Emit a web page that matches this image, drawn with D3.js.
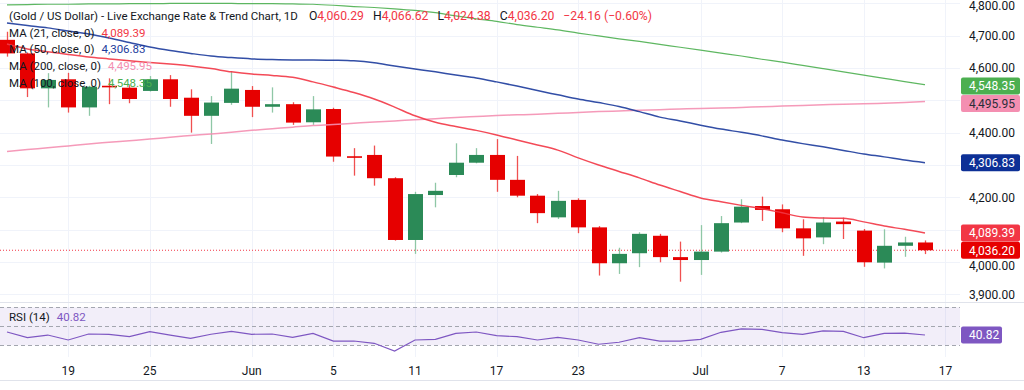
<!DOCTYPE html>
<html><head><meta charset="utf-8">
<script src="https://cdn.jsdelivr.net/npm/d3@7/dist/d3.min.js"></script>
<style>
html,body{margin:0;padding:0;background:#fff;}
svg{display:block;font-family:Roboto,"Liberation Sans",Arial,sans-serif;}
</style></head><body>
<svg id="c" width="1024" height="390"></svg>
<script>
// ---- data ----
const dates = ["2026-05-14","2026-05-15","2026-05-18","2026-05-19","2026-05-20","2026-05-21","2026-05-22",
"2026-05-25","2026-05-26","2026-05-27","2026-05-28","2026-05-29",
"2026-06-01","2026-06-02","2026-06-03","2026-06-04","2026-06-05","2026-06-08","2026-06-09","2026-06-10","2026-06-11","2026-06-12",
"2026-06-15","2026-06-16","2026-06-17","2026-06-18","2026-06-19","2026-06-22","2026-06-23","2026-06-24","2026-06-25","2026-06-26",
"2026-06-29","2026-06-30","2026-07-01","2026-07-02","2026-07-03","2026-07-06","2026-07-07","2026-07-08","2026-07-09","2026-07-10",
"2026-07-13","2026-07-14","2026-07-15","2026-07-16","2026-07-17"];
const opens  = [4687,4645,4537,4565,4478,4545,4539,4529,4565,4508,4452,4492,4532,4480,4488,4432,4473,4327,4331,4259,4068,4207,4269,4307,4331,4254,4205,4138,4192,4107,3996,4027,4081,4015,4006,4032,4122,4173,4163,4104,4076,4125,4097,3998,4050,4060.29];
const highs  = [4712,4648,4584,4585,4545,4568,4547,4575,4578,4534,4513,4590,4544,4540,4494,4513,4477,4352,4360,4262,4217,4245,4367,4352,4380,4328,4210,4220,4197,4111,4044,4092,4087,4063,4114,4142,4194,4202,4178,4132,4138,4137,4102,4101,4078,4066.62];
const lows   = [4635,4510,4478,4462,4452,4488,4491,4527,4480,4400,4365,4486,4448,4462,4424,4424,4310,4267,4236,4066,4025,4169,4262,4305,4217,4200,4120,4133,4089,3958,3963,3984,3999,3939,3960,4029,4120,4127,4092,4019,4055,4071,3985,3980,4016,4024.38];
const closes = [4645,4537,4563,4478,4542,4542,4504,4565,4504,4452,4493,4536,4480,4488,4431,4472,4326,4325,4259,4068,4210,4220,4307,4331,4254,4205,4151,4189,4107,3996,4025,4087,4015,4006,4032,4120,4171,4161,4104,4073,4122,4117,3999,4050,4060.36,4036.20];
const ma21  = [4674,4659,4650,4642,4634,4628,4622,4617,4612,4606,4598,4588,4581,4577,4571,4557,4541,4524,4504,4479,4452,4432,4419,4407,4393,4377,4362,4346,4322,4300,4280,4260,4238,4218,4198,4186,4175,4165,4152,4139,4136,4135,4124,4111,4101,4089.39];
const ma50  = [4739,4731,4724,4714,4705,4693,4679,4665,4654,4645,4637,4632,4628,4626,4625,4625,4624,4622,4616,4606,4597,4588,4578,4569,4557,4544,4530,4517,4504,4493,4481,4465,4448,4436,4423,4411,4401,4390,4377,4366,4356,4345,4334,4325,4315,4306.83];
const ma100 = [4795,4796,4797,4797,4798,4798,4799,4799,4799.5,4800,4800,4799.5,4799,4799,4798,4797,4794,4790,4787,4783,4778,4771,4761,4752,4744,4734,4726,4718,4708,4699,4690,4682,4673,4664,4655,4646,4637,4627,4618,4608,4598,4588,4578,4568,4558,4548.35];
const ma200 = [4342,4348,4353,4359,4365,4370,4375,4380,4386,4391,4396,4401,4407,4412,4417,4422,4425,4429,4433,4436,4440,4443,4447,4450,4453,4455,4457,4460,4462,4465,4467,4469,4471,4473,4475,4476,4478,4480,4482,4484,4486,4488,4489,4491,4493,4495.95];
const rsi   = [44.0,38.0,40.8,35.6,41.9,41.6,39.1,44.3,40.8,37.4,41.6,44.7,41.6,41.9,38.4,42.6,34.5,34.5,32.1,24.0,35.6,36.3,42.6,44.0,40.1,39.1,35.6,38.4,35.6,31.1,33.2,38.0,34.5,34.5,36.3,43.7,47.2,46.8,43.3,41.6,45.1,44.7,38.0,42.6,42.9,40.82];
const priceTicks = [3900,4000,4100,4200,4300,4400,4500,4600,4700,4800];
const xTickDates  = ["2026-05-19","2026-05-25","2026-06-01","2026-06-05","2026-06-11","2026-06-17","2026-06-23","2026-07-01","2026-07-07","2026-07-13","2026-07-17"];
const xTickLabels = ["19","25","Jun","5","11","17","23","Jul","7","13","17"];
const maNames = ["MA (21, close, 0)","MA (50, close, 0)","MA (200, close, 0)","MA (100, close, 0)"];

// ---- scales ----
const svg = d3.select("#c");
const W = 1024, plotR = 960, mainB = 302;
const x = d3.scaleLinear().domain([0, 46]).range([7, 945.4]);
const y = d3.scaleLinear().domain([3900, 4800]).range([294.3, 3.3]);
const yr = d3.scaleLinear().domain([30, 70]).range([345.3, 307.3]);
const fmt = d3.format(",.2f");

const UP = "#2b8a57", DN = "#e60000";
const C21 = "#f23645", C50 = "#1c3b9c", C100 = "#4caf50", C200 = "#f48fb1", CRSI = "#7e57c2";

svg.append("rect").attr("width", W).attr("height", 390).attr("fill", "#fff");

// grid
const grid = svg.append("g");
grid.selectAll("line.h").data(priceTicks).join("line")
  .attr("x1", 0).attr("x2", plotR).attr("y1", d => Math.round(y(d)) + 0.5).attr("y2", d => Math.round(y(d)) + 0.5)
  .attr("stroke", "#f0f3fa").attr("stroke-width", 1);
const tickIdx = xTickDates.map(d => dates.indexOf(d));
grid.selectAll("line.v").data(tickIdx).join("line")
  .attr("x1", d => Math.round(x(d)) + 0.5).attr("x2", d => Math.round(x(d)) + 0.5)
  .attr("y1", 0).attr("y2", 357)
  .attr("stroke", "#f0f3fa").attr("stroke-width", 1);

// separators
svg.append("line").attr("x1", 0).attr("x2", W).attr("y1", mainB + 0.5).attr("y2", mainB + 0.5).attr("stroke", "#e0e3eb");
svg.append("line").attr("x1", 0).attr("x2", W).attr("y1", 380.5).attr("y2", 380.5).attr("stroke", "#e0e3eb");

// RSI panel
svg.append("rect").attr("x", 0).attr("width", plotR).attr("y", yr(70)).attr("height", yr(30) - yr(70))
  .attr("fill", CRSI).attr("fill-opacity", 0.1);
svg.selectAll("line.rl").data([70, 50, 30]).join("line")
  .attr("x1", 0).attr("x2", plotR).attr("y1", d => Math.round(yr(d)) + 0.5).attr("y2", d => Math.round(yr(d)) + 0.5)
  .attr("stroke", "#a3a6af").attr("stroke-dasharray", "4,3").attr("stroke-width", 1);
svg.append("path").datum(rsi)
  .attr("d", d3.line().x((d, i) => x(i)).y(d => yr(d)))
  .attr("fill", "none").attr("stroke", CRSI).attr("stroke-width", 1.2);

// main clip
svg.append("clipPath").attr("id", "clip").append("rect").attr("x", 0).attr("y", 0).attr("width", plotR).attr("height", mainB);
const main = svg.append("g").attr("clip-path", "url(#clip)");

// last price dotted line
main.append("line").attr("x1", 0).attr("x2", plotR)
  .attr("y1", y(closes[45])).attr("y2", y(closes[45]))
  .attr("stroke", "#f23645").attr("stroke-dasharray", "1,2").attr("stroke-width", 1);

// candles
const candles = main.append("g");
const idx = d3.range(opens.length);
candles.selectAll("line.w").data(idx).join("line")
  .attr("x1", i => Math.round(x(i)) + 0.5).attr("x2", i => Math.round(x(i)) + 0.5)
  .attr("y1", i => y(highs[i])).attr("y2", i => y(lows[i]))
  .attr("stroke", i => closes[i] >= opens[i] ? "#8fc7a6" : "#f05050")
  .attr("stroke-width", 1.3);
candles.selectAll("rect.b").data(idx).join("rect")
  .attr("x", i => Math.round(x(i)) - 7)
  .attr("width", 15)
  .attr("y", i => y(Math.max(opens[i], closes[i])))
  .attr("height", i => Math.max(1.6, Math.abs(y(opens[i]) - y(closes[i]))))
  .attr("fill", i => closes[i] >= opens[i] ? UP : DN);

// moving averages
const maLine = d3.line().x((d, i) => x(i)).y(d => y(d)).curve(d3.curveMonotoneX);
[[ma100, C100, 1.2], [ma200, C200, 1.5], [ma50, C50, 1.5], [ma21, C21, 1.5]].forEach(([arr, col, w]) => {
  main.append("path").datum(arr).attr("d", maLine).attr("fill", "none")
    .attr("stroke", col).attr("stroke-width", w).attr("stroke-opacity", 0.9);
});

// price label boxes
const labels = [
  {v: ma100[45], bg: C100, fg: "#fff", off: 1.3},
  {v: ma200[45], bg: C200, fg: "#2a2e39", off: 2},
  {v: ma50[45], bg: "#0d3096", fg: "#fff", off: 0},
  {v: ma21[45], bg: "#f23645", fg: "#fff", off: 0},
  {v: closes[45], bg: "#e60000", fg: "#fff", off: 0}
];
labels.forEach(l => l.cy = y(l.v) + l.off);

// right axis labels (those fully hidden by a value box are not drawn; partly hidden ones are nudged clear)
const visibleTicks = priceTicks.filter(t => labels.every(l => Math.abs(y(t) - l.cy) > 11));
const tickY = t => {
  let yy = Math.max(y(t), 6);
  labels.forEach(l => {
    const dd = yy - l.cy;
    if (dd > 0 && dd < 15.5) yy = l.cy + 15.5;
  });
  return yy;
};
const axisG = svg.append("g").attr("font-size", 12).attr("fill", "#131722");
axisG.selectAll("text").data(visibleTicks).join("text")
  .attr("x", 969).attr("y", d => tickY(d)).attr("dy", "0.35em").text(d => fmt(d));

const lg = svg.append("g");
labels.forEach(l => {
  lg.append("rect").attr("x", 961).attr("y", l.cy - 8.5).attr("width", 59).attr("height", 17).attr("rx", 2).attr("fill", l.bg);
  lg.append("text").attr("x", 969).attr("y", l.cy).attr("dy", "0.36em").attr("font-size", 12)
    .attr("fill", l.fg).text(fmt(l.v));
});
// RSI value box
svg.append("rect").attr("x", 961).attr("y", yr(rsi[45]) - 8.5).attr("width", 41).attr("height", 17).attr("rx", 2).attr("fill", CRSI);
svg.append("text").attr("x", 969).attr("y", yr(rsi[45])).attr("dy", "0.36em").attr("font-size", 12).attr("fill", "#fff").text(rsi[45].toFixed(2));

// x axis labels
svg.append("g").attr("font-size", 12).attr("fill", "#131722").attr("text-anchor", "middle")
  .selectAll("text").data(xTickLabels).join("text")
  .attr("x", (d, i) => x(tickIdx[i])).attr("y", 371).attr("dy", "0.35em").text(d => d);

// legend
const leg = svg.append("g").attr("font-size", 11.5).attr("fill", "#131722");
const chg = closes[45] - closes[44];
const t = leg.append("text").attr("x", 9).attr("y", 16).attr("dy", "0.35em");
t.append("tspan").text("(Gold / US Dollar) - Live Exchange Rate & Trend Chart, 1D");
[["O", opens[45]], ["H", highs[45]], ["L", lows[45]], ["C", closes[45]]].forEach(([k, v], j) => {
  t.append("tspan").attr("dx", j === 0 ? 11 : 9).attr("font-size", 12.2).text(k);
  t.append("tspan").attr("fill", "#f23645").attr("font-size", 12.2).text(fmt(v));
});
t.append("tspan").attr("dx", 9).attr("fill", "#f23645").attr("font-size", 12.2)
  .text(d3.format(".2f")(chg) + " (\u2212" + Math.abs(chg / closes[44] * 100).toFixed(2) + "%)");

const maVals = [[ma21, C21], [ma50, C50], [ma200, C200], [ma100, C100]];
maNames.forEach((n, j) => {
  const tt = leg.append("text").attr("x", 9).attr("y", 32.5 + j * 16.7).attr("dy", "0.35em");
  tt.append("tspan").text(n);
  tt.append("tspan").attr("dx", 7).attr("fill", maVals[j][1]).text(fmt(maVals[j][0][45]));
});
// RSI legend
const rt = leg.append("text").attr("x", 9).attr("y", 317).attr("dy", "0.35em");
rt.append("tspan").text("RSI (14)");
rt.append("tspan").attr("dx", 7).attr("fill", CRSI).text(rsi[45].toFixed(2));
</script></body></html>
